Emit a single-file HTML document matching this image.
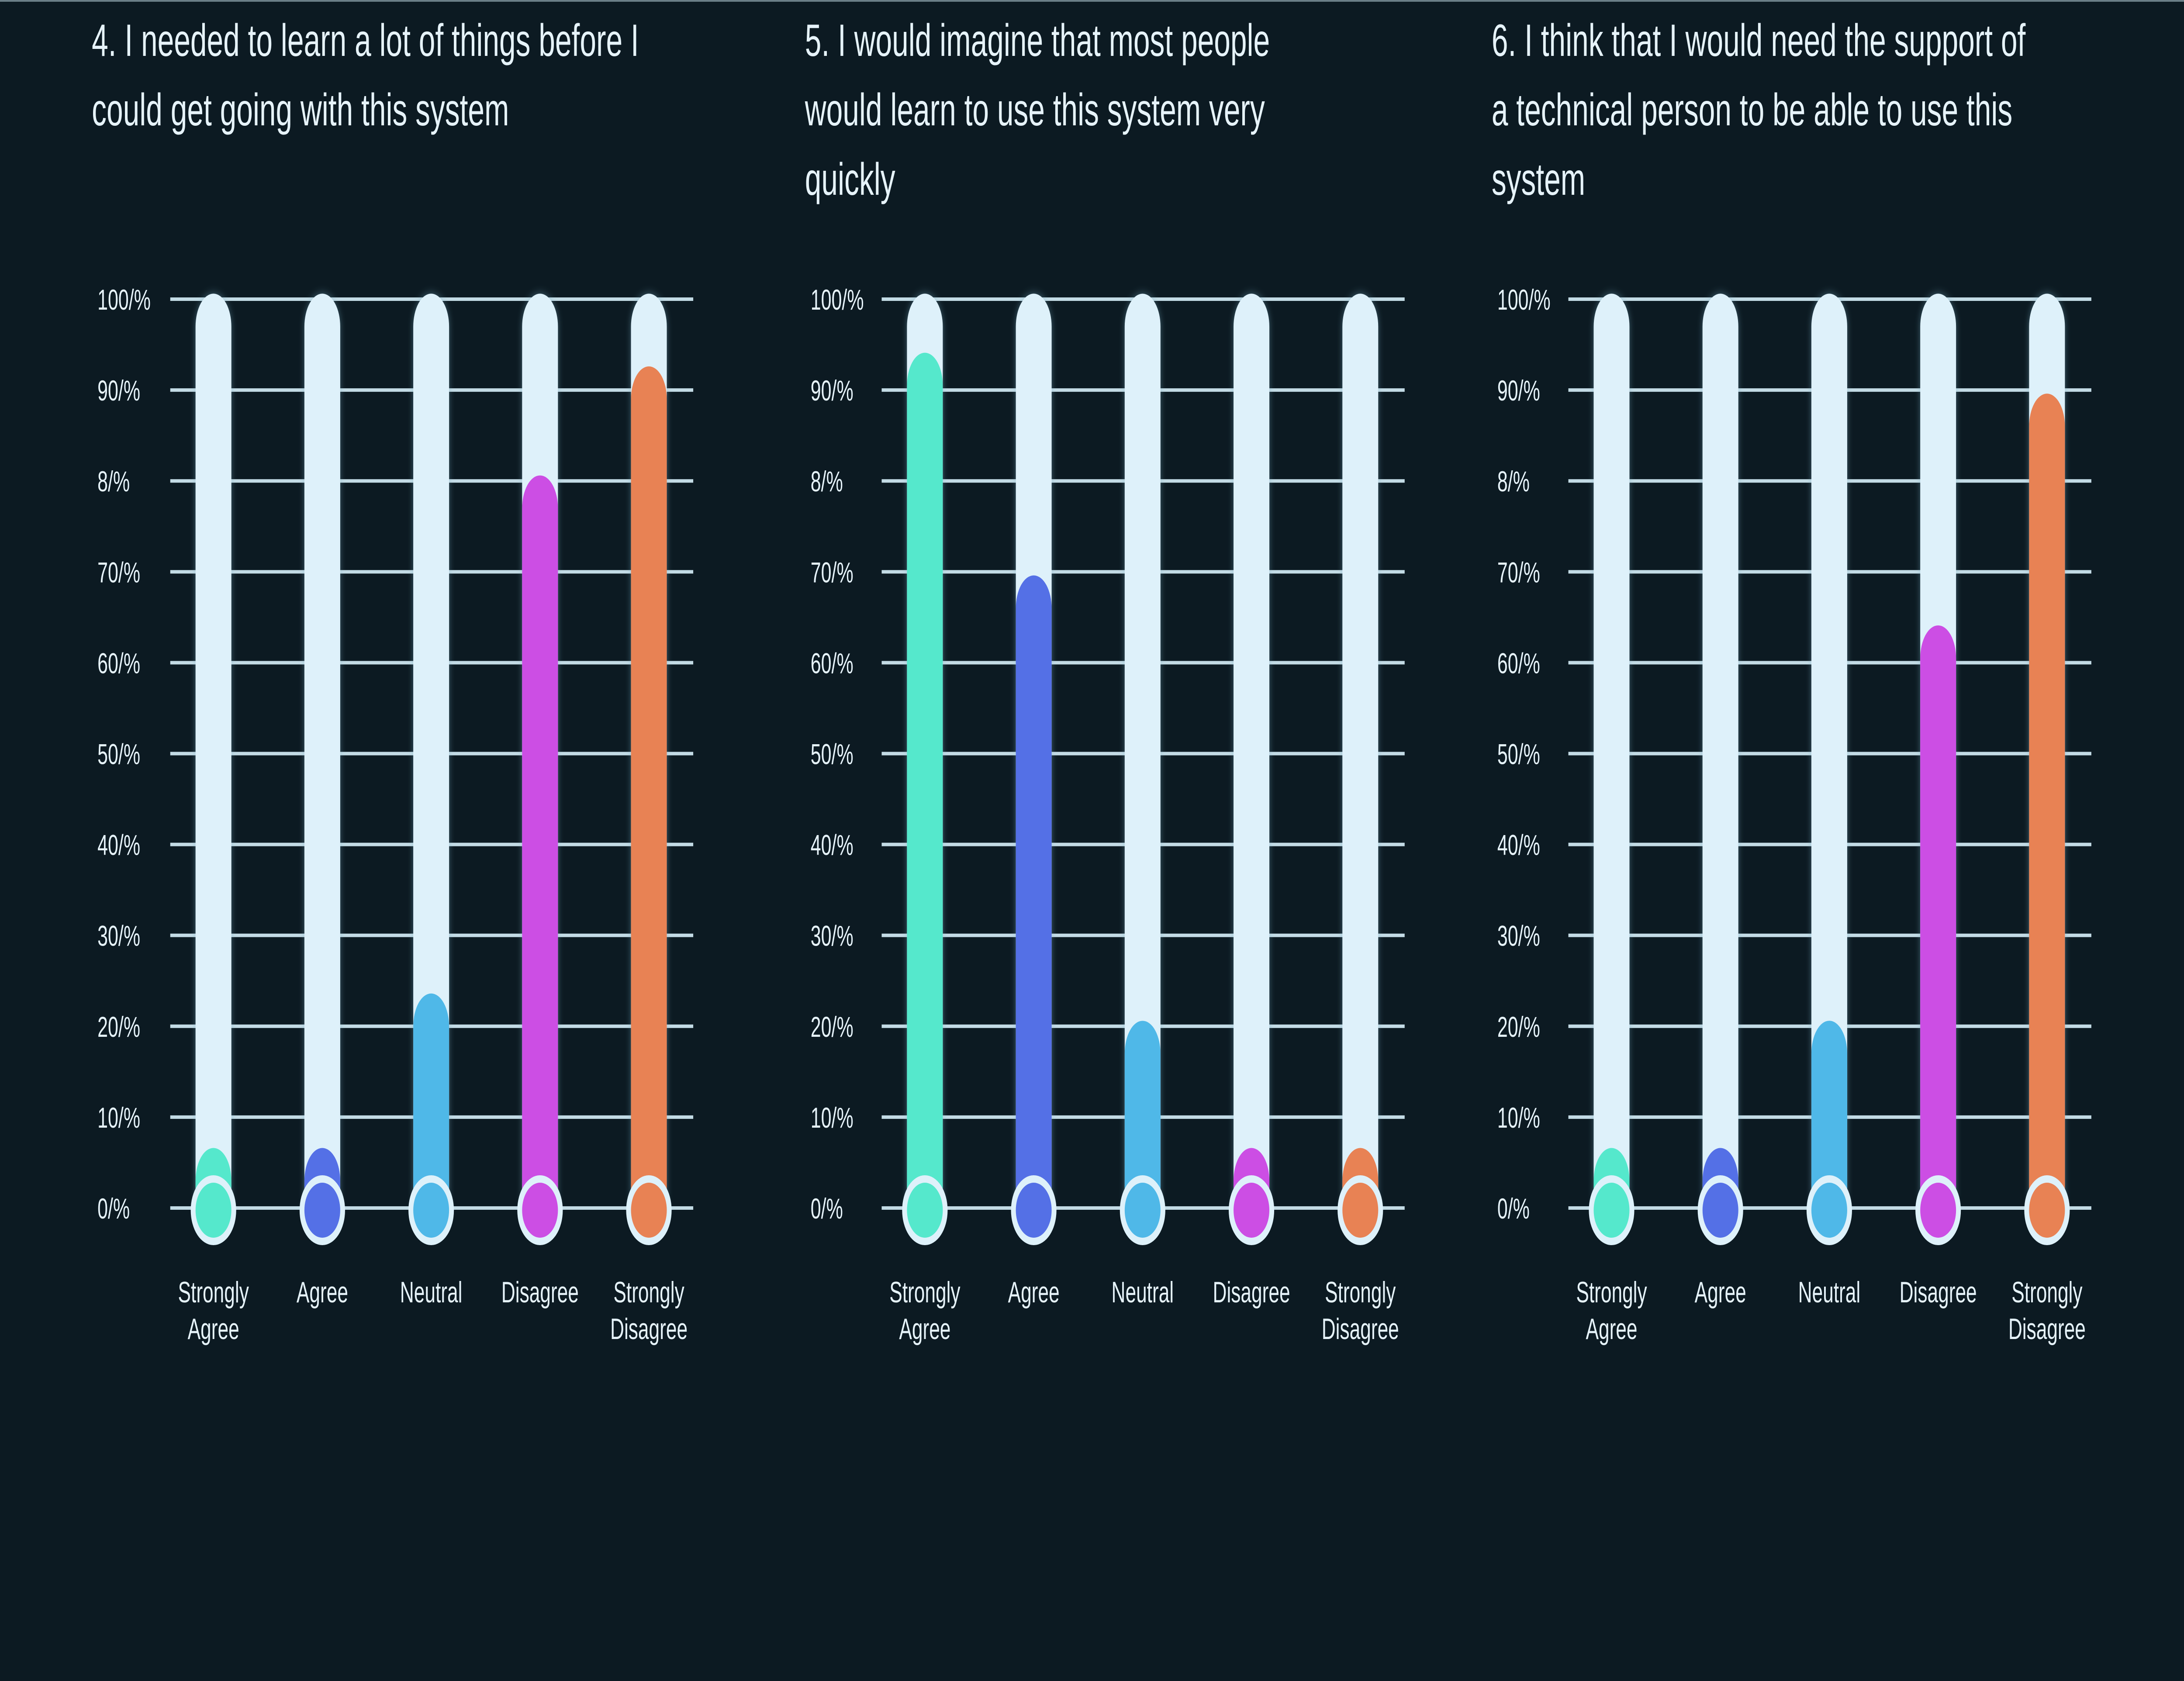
<!DOCTYPE html>
<html><head><meta charset="utf-8"><style>
html,body{margin:0;padding:0;background:#0c1a22;overflow:hidden;width:100%;height:100%;}
svg{display:block;width:100vw;height:100vh;}
text{font-family:"Liberation Sans",sans-serif;fill:#e6f3fa;}
</style></head><body>
<svg id="chart" viewBox="0 0 7684 3849" preserveAspectRatio="none" xmlns="http://www.w3.org/2000/svg">
<defs>
<filter id="glow" x="-50%" y="-10%" width="200%" height="120%"><feGaussianBlur stdDeviation="10" in="SourceAlpha" result="b"/><feFlood flood-color="#7fb6cc" flood-opacity="0.45"/><feComposite in2="b" operator="in" result="g"/><feMerge><feMergeNode in="g"/><feMergeNode in="SourceGraphic"/></feMerge></filter>
</defs>
<rect x="0" y="0" width="7684" height="3849" fill="#0c1a22"/>
<rect x="0" y="0" width="7684" height="4" fill="#6b7f88"/>
</svg>
<script>
const categories = ["Strongly Agree","Agree","Neutral","Disagree","Strongly Disagree"];
const tickValues = [0,10,20,30,40,50,60,70,80,90,100];
const tickLabels = ["0/%","10/%","20/%","30/%","40/%","50/%","60/%","70/%","8/%","90/%","100/%"];
const q4Values = [6,6,23,80,92];
const q5Values = [93.5,69,20,6,6];
const q6Values = [6,6,20,63.5,89];
const q4Title = ["4. I needed to learn a lot of things before I","could get going with this system"];
const q5Title = ["5. I would imagine that most people","would learn to use this system very","quickly"];
const q6Title = ["6. I think that I would need the support of","a technical person to be able to use this","system"];
const colors = ["#55e8cc","#5470e6","#4fb8e8","#cc4ee4","#e88254"];

const NS = "http://www.w3.org/2000/svg";
const svg = document.getElementById("chart");
function mk(tag, attrs, parent){const e=document.createElementNS(NS,tag);for(const k in attrs)e.setAttribute(k,attrs[k]);(parent||svg).appendChild(e);return e;}

const y0 = 2766, y100 = 685;
function yScale(v){return y0 + (y100 - y0) * v / 100;}
const R = 63;

function drawChart(name, lineX, titleX, tickX, titleLines, values){
  const g = mk("g",{});
  
  
  titleLines.forEach((t,i)=>{
    const tx = mk("text",{x:titleX,y:128+i*159,"font-size":104},g);
    tx.textContent=t;
    
    
  });
  const lineEnd = lineX + 1840;
  tickValues.forEach((v,i)=>{
    const y = yScale(v);
    const ln = mk("rect",{x:lineX,y:y-4,width:lineEnd-lineX,height:8,fill:"#c3dbe5"},g);
    
    
    const tl = mk("text",{x:tickX,y:y+24,"font-size":66},g);
    tl.textContent = tickLabels[i];
    
    
  });
  categories.forEach((c,i)=>{
    const cx = lineX + 152 + i*383;
    const track = mk("path",{d:`M${cx-R},${y0} L${cx-R},${yScale(100)+R} A${R},${R*1.2} 0 0 1 ${cx+R},${yScale(100)+R} L${cx+R},${y0} Z`,fill:"#def1fa",filter:"url(#glow)"},g);
    
    
    const top = yScale(values[i]);
    const bar = mk("path",{d:`M${cx-R},${y0} L${cx-R},${top+R} A${R},${R*1.2} 0 0 1 ${cx+R},${top+R} L${cx+R},${y0} Z`,fill:colors[i]},g);
    
    
    const ring = mk("circle",{cx:cx,cy:y0+5,r:80,fill:"#def1fa"},g);
    
    
    const dot = mk("circle",{cx:cx,cy:y0+5,r:63,fill:colors[i]},g);
    
    
    const words = c.split(" ");
    words.forEach((w,j)=>{
      const t = mk("text",{x:cx,y:2982+j*84,"font-size":68,"text-anchor":"middle"},g);
      t.textContent = w;
      
      
    });
  });
}
drawChart("chart-q4", 599, 323, 343, q4Title, q4Values);
drawChart("chart-q5", 3102, 2832, 2852, q5Title, q5Values);
drawChart("chart-q6", 5518, 5248, 5268, q6Title, q6Values);
</script>
</body></html>
